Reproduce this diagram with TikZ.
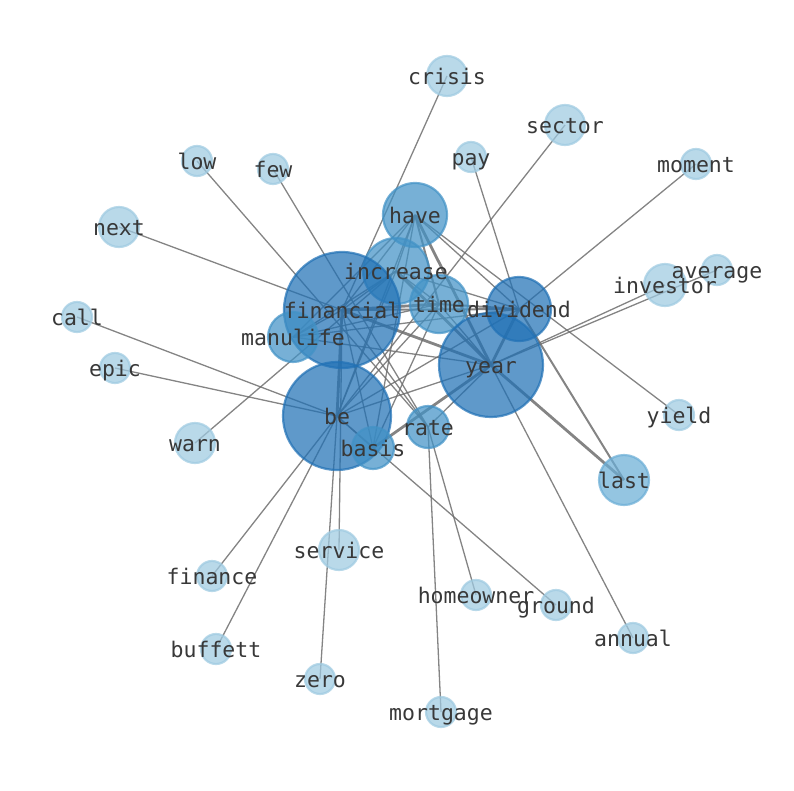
\documentclass[tikz,border=0pt]{standalone}
\usepackage{fontspec}
\newfontfamily\labfont{DejaVu Sans Mono}
\definecolor{cA}{RGB}{33,113,181}
\definecolor{cB}{RGB}{66,146,198}
\definecolor{cC}{RGB}{107,174,214}
\definecolor{cD}{RGB}{158,202,225}
\definecolor{edgegray}{RGB}{110,110,110}
\tikzset{
  nd/.style={circle,inner sep=0pt,line width=2.2pt,fill opacity=0.72,draw opacity=0.72},
  ndA/.style={nd,fill=cA,draw=cA},
  ndB/.style={nd,fill=cB,draw=cB},
  ndC/.style={nd,fill=cC,draw=cC},
  ndD/.style={nd,fill=cD,draw=cD},
  lab/.style={font=\labfont\fontsize{21.5}{24}\selectfont,text=black!78,
    inner sep=0pt,text height=19pt,text depth=3pt},
  ethin/.style={draw=edgegray,line width=1.3pt,opacity=0.85},
  emid/.style={draw=edgegray,line width=2pt,opacity=0.85},
  ethick/.style={draw=edgegray,line width=2.8pt,opacity=0.85}
}
\begin{document}
\begin{tikzpicture}[x=1pt,y=-1pt]
\useasboundingbox (0,0) rectangle (794,790);
% coordinates of node centres
\coordinate (crisis) at (447,76);
\coordinate (sector) at (565,125);
\coordinate (pay) at (471,157);
\coordinate (low) at (197,161);
\coordinate (few) at (273,169);
\coordinate (moment) at (696,164);
\coordinate (have) at (415,215);
\coordinate (next) at (119,227);
\coordinate (increase) at (396,271);
\coordinate (average) at (717,270);
\coordinate (investor) at (665,285);
\coordinate (financial) at (342,310);
\coordinate (time) at (439,304);
\coordinate (dividend) at (519,309);
\coordinate (call) at (77,317);
\coordinate (manulife) at (293,337);
\coordinate (year) at (491,365);
\coordinate (epic) at (115,368);
\coordinate (be) at (337,416);
\coordinate (rate) at (428,427);
\coordinate (basis) at (373,448);
\coordinate (warn) at (195,443);
\coordinate (yield) at (679,415);
\coordinate (last) at (624,480);
\coordinate (service) at (339,550);
\coordinate (finance) at (212,576);
\coordinate (homeowner) at (476,595);
\coordinate (ground) at (556,605);
\coordinate (annual) at (633,638);
\coordinate (buffett) at (216,649);
\coordinate (zero) at (320,679);
\coordinate (mortgage) at (441,712);

% edges
\foreach \a/\b in {crisis/financial,sector/be,pay/dividend,low/rate,few/rate,moment/dividend,
  next/financial,call/be,epic/be,warn/increase,investor/year,average/year,have/yield,
  annual/year,ground/be,homeowner/rate,mortgage/rate,service/financial,zero/be,finance/be,buffett/be,
  have/increase,have/financial,have/manulife,have/be,have/basis,have/dividend,
  increase/financial,increase/time,increase/dividend,increase/manulife,increase/be,
  financial/manulife,financial/rate,financial/basis,
  time/year,time/manulife,time/be,time/basis,
  dividend/manulife,dividend/be,year/be,year/manulife,year/rate,be/basis}
  \draw[ethin] (\a) -- (\b);
\foreach \a/\b in {dividend/last,have/time,financial/dividend,time/dividend}
  \draw[emid] (\a) -- (\b);
\foreach \a/\b in {have/year,increase/year,financial/time,financial/year,financial/be,
  dividend/year,year/basis,year/last}
  \draw[ethick] (\a) -- (\b);

% nodes
\node[ndD,minimum size=40pt] (ncrisis) at (crisis) {};
\node[ndD,minimum size=40pt] (nsector) at (sector) {};
\node[ndD,minimum size=30pt] (npay) at (pay) {};
\node[ndD,minimum size=30pt] (nlow) at (low) {};
\node[ndD,minimum size=30pt] (nfew) at (few) {};
\node[ndD,minimum size=30pt] (nmoment) at (moment) {};
\node[ndB,minimum size=64pt] (nhave) at (have) {};
\node[ndD,minimum size=40pt] (nnext) at (next) {};
\node[ndB,minimum size=66pt] (nincrease) at (increase) {};
\node[ndD,minimum size=30pt] (naverage) at (average) {};
\node[ndD,minimum size=42pt] (ninvestor) at (investor) {};
\node[ndA,minimum size=116pt] (nfinancial) at (financial) {};
\node[ndB,minimum size=58pt] (ntime) at (time) {};
\node[ndA,minimum size=64pt] (ndividend) at (dividend) {};
\node[ndD,minimum size=30pt] (ncall) at (call) {};
\node[ndB,minimum size=50pt] (nmanulife) at (manulife) {};
\node[ndA,minimum size=104pt] (nyear) at (year) {};
\node[ndD,minimum size=30pt] (nepic) at (epic) {};
\node[ndA,minimum size=108pt] (nbe) at (be) {};
\node[ndB,minimum size=42pt] (nrate) at (rate) {};
\node[ndB,minimum size=42pt] (nbasis) at (basis) {};
\node[ndD,minimum size=40pt] (nwarn) at (warn) {};
\node[ndD,minimum size=30pt] (nyield) at (yield) {};
\node[ndC,minimum size=50pt] (nlast) at (last) {};
\node[ndD,minimum size=40pt] (nservice) at (service) {};
\node[ndD,minimum size=30pt] (nfinance) at (finance) {};
\node[ndD,minimum size=30pt] (nhomeowner) at (homeowner) {};
\node[ndD,minimum size=30pt] (nground) at (ground) {};
\node[ndD,minimum size=30pt] (nannual) at (annual) {};
\node[ndD,minimum size=30pt] (nbuffett) at (buffett) {};
\node[ndD,minimum size=30pt] (nzero) at (zero) {};
\node[ndD,minimum size=30pt] (nmortgage) at (mortgage) {};

% labels
\foreach \n in {crisis,sector,pay,low,few,moment,have,next,increase,average,investor,
  financial,time,dividend,call,manulife,year,epic,be,rate,basis,warn,yield,last,service,
  finance,homeowner,ground,annual,buffett,zero,mortgage}
  \node[lab] (l\n) at (\n) {\n};
\end{tikzpicture}
\end{document}
